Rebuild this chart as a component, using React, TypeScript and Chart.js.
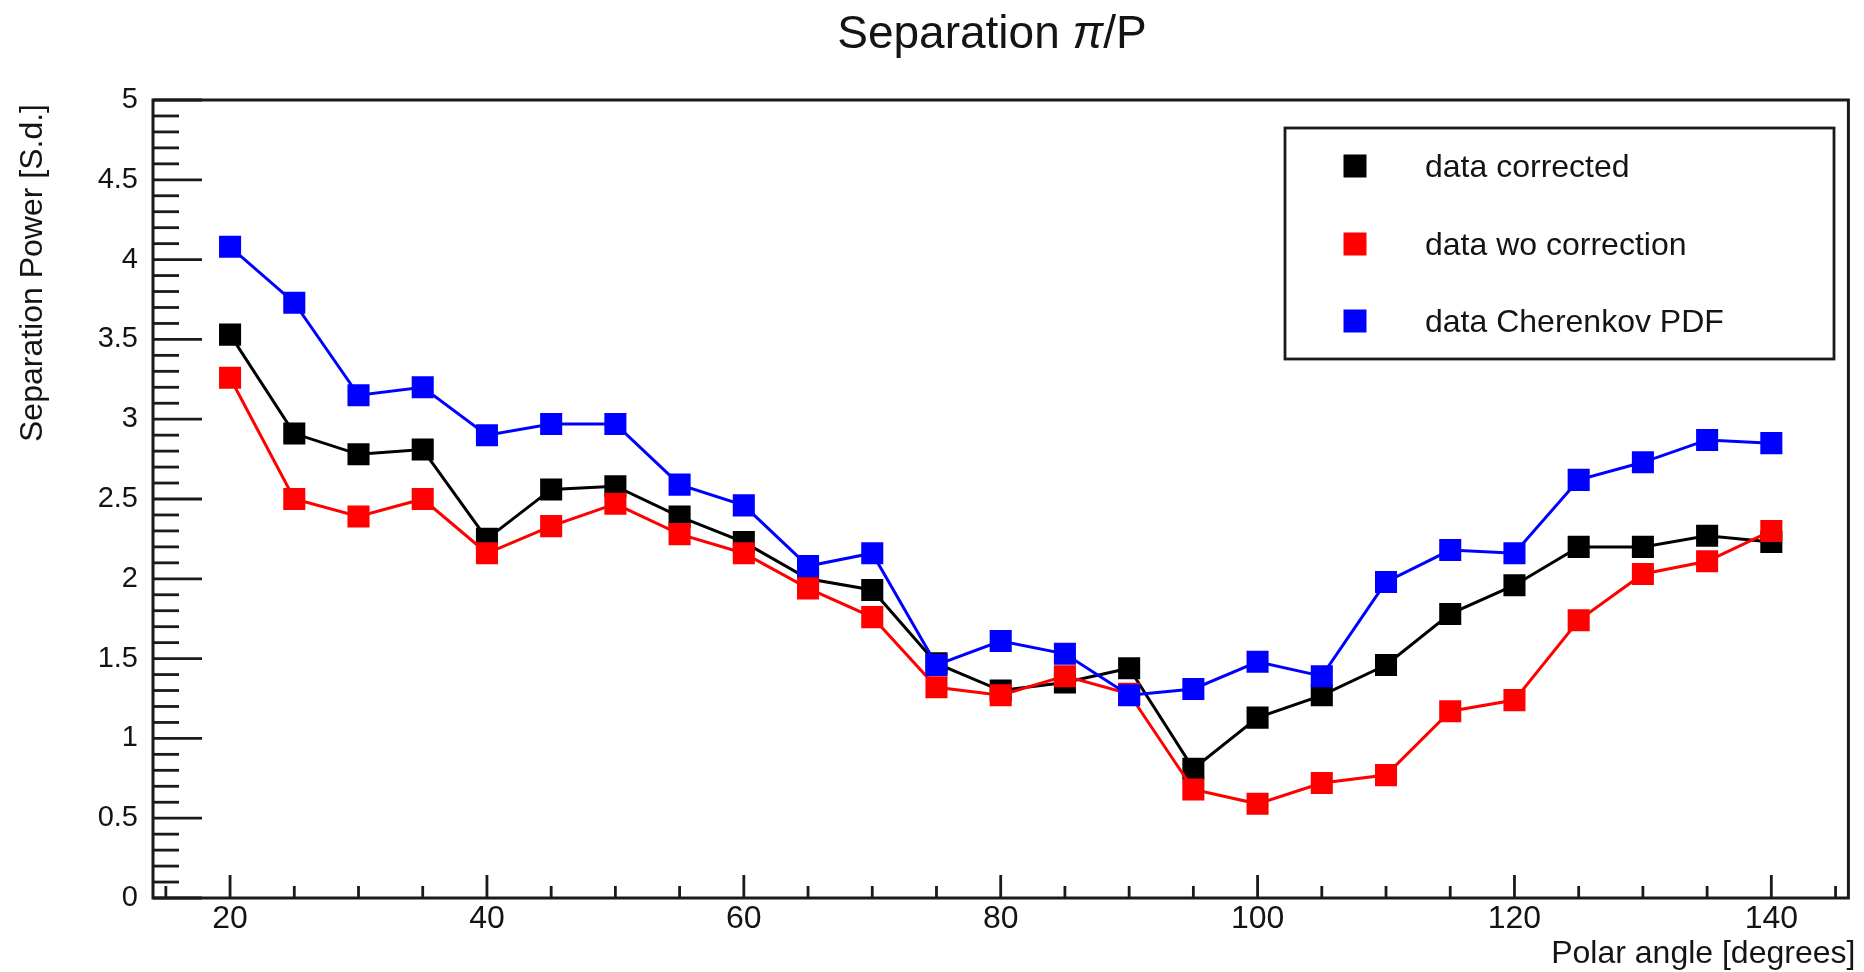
import React, { useEffect, useRef } from "react";
import { Chart, registerables } from "chart.js";

Chart.register(...registerables);

const angles = [20, 25, 30, 35, 40, 45, 50, 55, 60, 65, 70, 75, 80, 85, 90, 95, 100, 105, 110, 115, 120, 125, 130, 135, 140];
const dataCorrected = [3.53, 2.91, 2.78, 2.81, 2.25, 2.56, 2.58, 2.39, 2.23, 2.0, 1.93, 1.47, 1.3, 1.35, 1.44, 0.81, 1.13, 1.27, 1.46, 1.78, 1.96, 2.2, 2.2, 2.27, 2.23];
const dataWoCorrection = [3.26, 2.5, 2.39, 2.5, 2.16, 2.33, 2.47, 2.28, 2.16, 1.94, 1.76, 1.32, 1.27, 1.39, 1.28, 0.68, 0.59, 0.72, 0.77, 1.17, 1.24, 1.74, 2.03, 2.11, 2.3];
const dataCherenkov = [4.08, 3.73, 3.15, 3.2, 2.9, 2.97, 2.97, 2.59, 2.46, 2.08, 2.16, 1.46, 1.61, 1.53, 1.27, 1.31, 1.48, 1.39, 1.98, 2.18, 2.16, 2.62, 2.73, 2.87, 2.85];

const seriesLabels = ["data corrected", "data wo correction", "data Cherenkov PDF"];
const seriesColors = ["#000000", "#ff0000", "#0000ff"];
const xTickValues = [20, 40, 60, 80, 100, 120, 140];
const yTickValues = [0, 0.5, 1, 1.5, 2, 2.5, 3, 3.5, 4, 4.5, 5];
const titleMain = "Separation ";
const titleGreek = "π";
const titleTail = "/P";
const xTitle = "Polar angle [degrees]";
const yTitle = "Separation Power [S.d.]";

const FONT = '"Liberation Sans", Arial, Helvetica, sans-serif';
const INK = "#141414";

const rootPlugin = {
  id: "rootDecor",
  beforeDraw(chart: any) {
    const { ctx, width, height } = chart;
    ctx.save();
    ctx.fillStyle = "#ffffff";
    ctx.fillRect(0, 0, width, height);
    ctx.restore();
  },
  afterDraw(chart: any) {
    const { ctx, chartArea, scales } = chart;
    const { left, right, top, bottom } = chartArea;
    const xs = scales.x;
    const ys = scales.y;
    ctx.save();
    ctx.strokeStyle = "#1a1a1a";
    ctx.lineWidth = 3;
    ctx.strokeRect(left, top, right - left, bottom - top);

    // y ticks (inward)
    ctx.lineWidth = 2.8;
    for (let i = 0; i <= 50; i++) {
      const v = i / 10;
      const py = ys.getPixelForValue(v);
      const len = i % 5 === 0 ? 49 : 26;
      ctx.beginPath();
      ctx.moveTo(left, py);
      ctx.lineTo(left + len, py);
      ctx.stroke();
    }
    // x ticks (inward)
    for (let v = 15; v <= 145; v += 5) {
      const px = xs.getPixelForValue(v);
      const len = v % 20 === 0 ? 23 : 12;
      ctx.beginPath();
      ctx.moveTo(px, bottom);
      ctx.lineTo(px, bottom - len);
      ctx.stroke();
    }

    // title
    ctx.fillStyle = INK;
    ctx.textBaseline = "alphabetic";
    ctx.textAlign = "left";
    const normalFont = `46px ${FONT}`;
    const italicFont = `italic 46px ${FONT}`;
    ctx.font = normalFont;
    const w1 = ctx.measureText(titleMain).width;
    const w3 = ctx.measureText(titleTail).width;
    ctx.font = italicFont;
    const w2 = ctx.measureText(titleGreek).width;
    const total = w1 + w2 + w3;
    let tx = 992 - total / 2;
    const ty = 48;
    ctx.font = normalFont;
    ctx.fillText(titleMain, tx, ty);
    tx += w1;
    ctx.font = italicFont;
    ctx.fillText(titleGreek, tx, ty);
    tx += w2;
    ctx.font = normalFont;
    ctx.fillText(titleTail, tx, ty);

    // x axis title
    ctx.font = `32px ${FONT}`;
    ctx.textAlign = "right";
    ctx.fillText(xTitle, right + 7, 963);

    // y axis title
    ctx.save();
    ctx.translate(42, top + 4);
    ctx.rotate(-Math.PI / 2);
    ctx.textAlign = "right";
    ctx.fillText(yTitle, 0, 0);
    ctx.restore();

    // legend
    const lx0 = 1285, ly0 = 128, lx1 = 1834, ly1 = 359;
    ctx.strokeStyle = "#1a1a1a";
    ctx.lineWidth = 2.8;
    ctx.strokeRect(lx0, ly0, lx1 - lx0, ly1 - ly0);
    const rowsY = [166, 244, 321];
    ctx.font = `32px ${FONT}`;
    ctx.textAlign = "left";
    for (let i = 0; i < seriesLabels.length; i++) {
      const cy = rowsY[i];
      ctx.fillStyle = seriesColors[i];
      ctx.fillRect(1355 - 11.5, cy - 11.5, 23, 23);
      ctx.fillStyle = INK;
      ctx.fillText(seriesLabels[i], 1425, cy + 11);
    }
    ctx.restore();
  },
};

export default function App() {
  const canvasRef = useRef<HTMLCanvasElement | null>(null);

  useEffect(() => {
    const canvas = canvasRef.current;
    if (!canvas) return;
    const series = [dataCorrected, dataWoCorrection, dataCherenkov];
    const orders = [2, 1, 0];
    const chart = new Chart(canvas, {
      type: "line",
      data: {
        datasets: series.map((arr, i) => ({
          label: seriesLabels[i],
          data: arr.map((y, j) => ({ x: angles[j], y })),
          borderColor: seriesColors[i],
          backgroundColor: seriesColors[i],
          pointBackgroundColor: seriesColors[i],
          pointBorderColor: seriesColors[i],
          borderWidth: 3,
          pointStyle: "rect",
          pointRadius: 15.6,
          pointBorderWidth: 0,
          pointHoverRadius: 15.6,
          tension: 0,
          fill: false,
          order: orders[i],
        })),
      },
      options: {
        responsive: false,
        animation: false,
        events: [],
        layout: { padding: { top: 100, right: 8, left: 0, bottom: 0 } },
        plugins: {
          legend: { display: false },
          title: { display: false },
          tooltip: { enabled: false },
        },
        scales: {
          x: {
            type: "linear",
            min: 14,
            max: 146,
            grid: { display: false, drawTicks: false },
            border: { display: false },
            afterBuildTicks: (s: any) => {
              s.ticks = xTickValues.map((v) => ({ value: v }));
            },
            afterFit: (s: any) => {
              s.height = 74;
            },
            ticks: {
              color: INK,
              font: { family: FONT, size: 32 },
              padding: 2,
              maxRotation: 0,
              minRotation: 0,
              autoSkip: false,
              callback: (v: any) => String(v),
            },
          },
          y: {
            type: "linear",
            min: 0,
            max: 5,
            grid: { display: false, drawTicks: false },
            border: { display: false },
            afterBuildTicks: (s: any) => {
              s.ticks = yTickValues.map((v) => ({ value: v }));
            },
            afterFit: (s: any) => {
              s.width = 153;
            },
            ticks: {
              color: INK,
              font: { family: FONT, size: 29 },
              padding: 15,
              autoSkip: false,
              callback: (v: any) => String(v),
            },
          },
        },
      },
      plugins: [rootPlugin],
    });
    return () => chart.destroy();
  }, []);

  return (
    <div style={{ position: "fixed", left: 0, top: 0, width: 1864, height: 972, background: "#fff" }}>
      <canvas ref={canvasRef} width={1864} height={972} style={{ display: "block", width: 1864, height: 972 }} />
    </div>
  );
}
